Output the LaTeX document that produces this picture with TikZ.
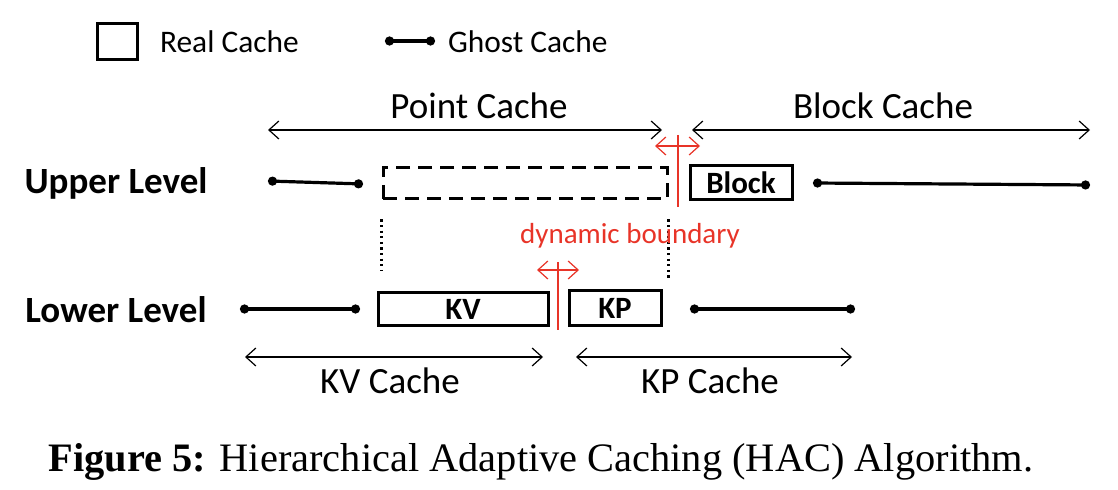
\documentclass[tikz,border=0pt]{standalone}
\usepackage{fontspec}
\setmainfont{Carlito}
\newfontfamily\captionfont{Liberation Serif}
\usetikzlibrary{arrows.meta}

\begin{document}
\begin{tikzpicture}[
			x=0.5pt,
			y=-0.5pt,
			realbox/.style={draw,line width=1.5pt,inner sep=0pt,font=\fontsize{15.5}{18}\selectfont\bfseries},
			ghostline/.style={line width=1.6pt,{Circle[length=4.5pt]}-{Circle[length=4.5pt]}},
			spanline/.style={line width=0.6pt,{Straight Barb[length=5pt,width=9pt]}-{Straight Barb[length=5pt,width=9pt]}},
			dotline/.style={line width=1.3pt,dash pattern=on 1.1pt off 1.7pt},
			levelname/.style={font=\fontsize{18.5}{22}\selectfont\bfseries},
			spanname/.style={font=\fontsize{18.5}{22}\selectfont},
			legendname/.style={anchor=west,font=\fontsize{15.7}{19}\selectfont}
		]
			% ===== MÀU SẮC =====
			\definecolor{MauRanh}{RGB}{232,52,40}

			\useasboundingbox (0,0) rectangle (1118,490);

			% ===== CHÚ THÍCH =====
			\node[realbox,minimum width=20pt,minimum height=18pt] (legreal) at (117,42) {};
			\node[legendname] (legrealname) at (153,42) {Real Cache};
			\coordinate (legghostA) at (385,41);
			\coordinate (legghostB) at (435,41);
			\draw[ghostline] (legghostA) -- (legghostB);
			\node[legendname] (legghostname) at (441,42) {Ghost Cache};

			% ===== TẦNG TRÊN =====
			\node[levelname] (upper) at (116,183) {Upper Level};
			\coordinate (upghostA) at (268,181);
			\coordinate (upghostB) at (363,184);
			\draw[ghostline] (upghostA) -- (upghostB);
			\node[realbox,dash pattern=on 7pt off 4pt,minimum width=142pt,minimum height=15.5pt] (pointbox) at (525,183.5) {};
			\node[realbox,minimum width=51pt,minimum height=17pt] (block) at (741,183) {Block};
			\coordinate (blockghostA) at (813,183);
			\coordinate (blockghostB) at (1090,185);
			\draw[ghostline] (blockghostA) -- (blockghostB);

			% ===== PHẠM VI TRÊN =====
			\coordinate (pointA) at (268,130);
			\coordinate (pointB) at (662,130);
			\coordinate (blockA) at (692,130);
			\coordinate (blockB) at (1090,130);
			\draw[spanline] (pointA) -- node[spanname,above=2pt,xshift=7pt] (pointname) {Point Cache} (pointB);
			\draw[spanline] (blockA) -- node[spanname,above=2pt,xshift=-4pt] (blockname) {Block Cache} (blockB);

			% ===== TẦNG DƯỚI =====
			\node[levelname] (lower) at (116,310) {Lower Level};
			\coordinate (lowghostA) at (240,309);
			\coordinate (lowghostB) at (360,309);
			\draw[ghostline] (lowghostA) -- (lowghostB);
			\node[realbox,minimum width=85pt,minimum height=16.5pt] (kv) at (463,309.5) {KV};
			\node[realbox,minimum width=46pt,minimum height=17.5pt] (kp) at (615,308.5) {KP};
			\coordinate (kpghostA) at (690,309);
			\coordinate (kpghostB) at (855,309);
			\draw[ghostline] (kpghostA) -- (kpghostB);

			% ===== PHẠM VI DƯỚI =====
			\coordinate (kvA) at (245,357);
			\coordinate (kvB) at (543,357);
			\coordinate (kpA) at (576,357);
			\coordinate (kpB) at (852,357);
			\draw[spanline] (kvA) -- node[spanname,below=2pt,xshift=-2pt] (kvname) {KV Cache} (kvB);
			\draw[spanline] (kpA) -- node[spanname,below=2pt,xshift=-2pt] (kpname) {KP Cache} (kpB);

			% ===== ĐƯỜNG CHẤM =====
			\draw[dotline] (pointbox.south west) ++(0,19) -- ++(0,52);
			\draw[dotline] (pointbox.south east) ++(0,19) -- ++(0,59);

			% ===== RANH GIỚI ĐỘNG =====
			\coordinate (upbndA) at (678,135);
			\coordinate (upbndB) at (678,207);
			\draw[MauRanh,line width=1.3pt] (upbndA) -- (upbndB);
			\coordinate (upmoveA) at (655,146);
			\coordinate (upmoveB) at (700,146);
			\draw[spanline,MauRanh] (upmoveA) -- (upmoveB);
			\node[MauRanh,font=\fontsize{14.5}{17}\selectfont] (dynname) at (630,236) {dynamic boundary};
			\coordinate (lowbndA) at (558,262);
			\coordinate (lowbndB) at (558,330);
			\draw[MauRanh,line width=1.3pt] (lowbndA) -- (lowbndB);
			\coordinate (lowmoveA) at (537,270);
			\coordinate (lowmoveB) at (579,270);
			\draw[spanline,MauRanh] (lowmoveA) -- (lowmoveB);

			% ===== CHÚ THÍCH HÌNH =====
			\node[font=\captionfont\fontsize{20.2}{24}\selectfont] (caption) at (541,462) {\textbf{Figure 5:} Hierarchical Adaptive Caching (HAC) Algorithm.};

		\end{tikzpicture}
\end{document}
